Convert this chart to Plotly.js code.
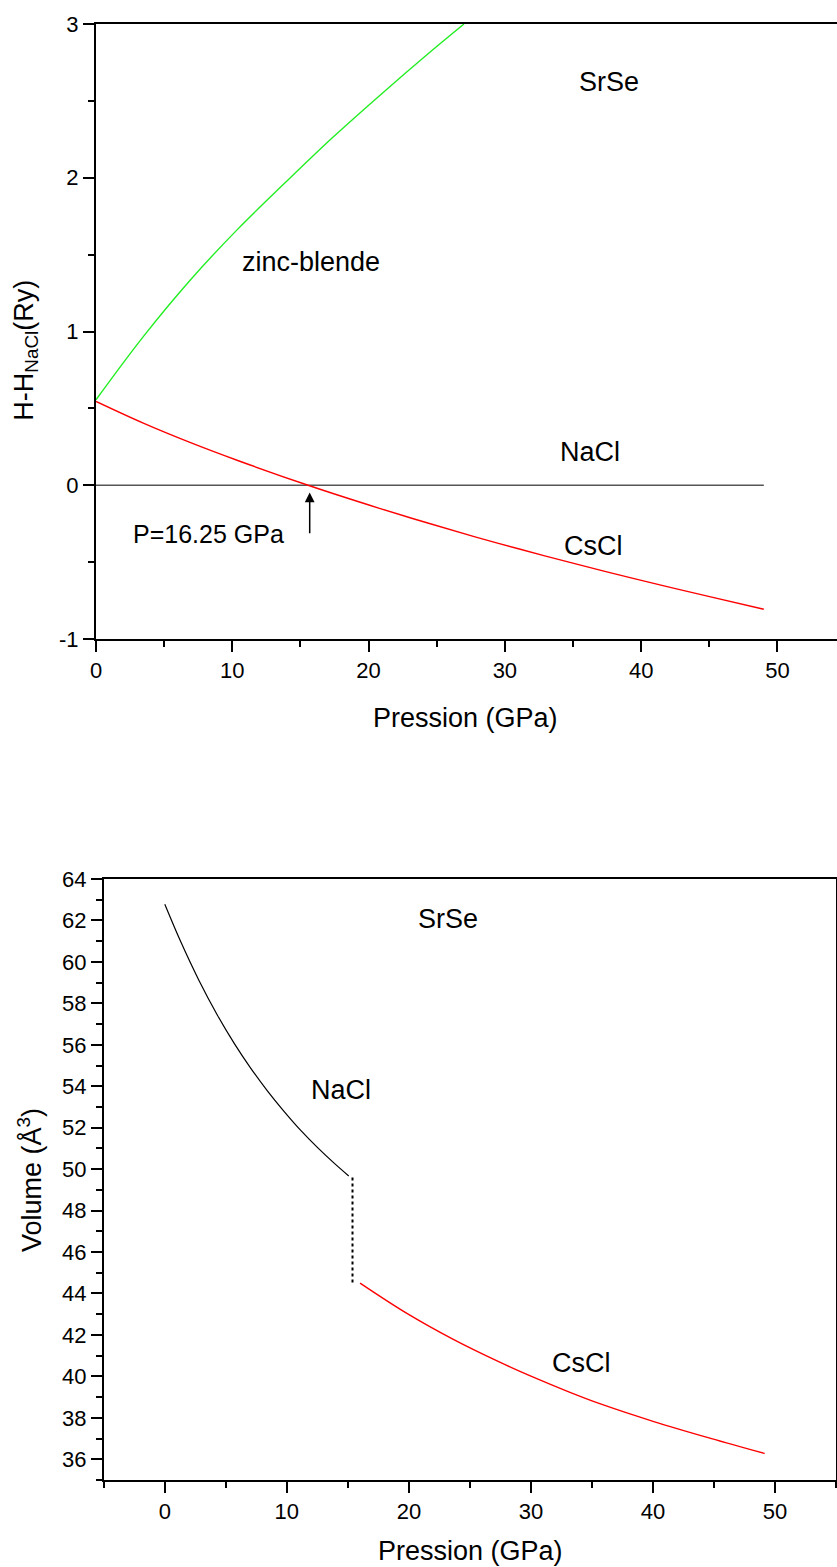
<!DOCTYPE html>
<html>
<head>
<meta charset="utf-8">
<script src="https://cdn.plot.ly/plotly-3.0.1.min.js"></script>
<style>html,body{margin:0;padding:0;background:#fff;overflow:hidden}</style>
</head>
<body>
<div id="chart" style="width:837px;height:1567px"></div>
<script>
// ---- Top panel: enthalpy difference vs pressure ----
const topP_zb = [0, 3.47, 6.94, 10.4, 13.87, 17.34, 20.8, 24.28, 27.0];
const topH_zb = [0.556, 0.967, 1.337, 1.666, 1.967, 2.26, 2.534, 2.80, 3.0];
const topP_cs = [0, 3.47, 6.94, 10.4, 16.0, 20.8, 24.28, 27.75, 31.2, 34.7, 38.15, 41.6, 45.1, 49.0];
const topH_cs = [0.545, 0.404, 0.277, 0.161, -0.013, -0.150, -0.244, -0.334, -0.418, -0.500, -0.578, -0.653, -0.726, -0.806];
const topP_nacl = [0, 49.0];
const topH_nacl = [0, 0];
const arrowP = 15.68;
const arrowH = [-0.367, -0.047];
const topYTickVals = [-1, 0, 1, 2, 3];
const topYTickText = ['-1', '0', '1', '2', '3'];

// ---- Bottom panel: volume vs pressure ----
const botP_nacl = [0, 1.3, 2.78, 4.3, 5.7, 7.02, 8.39, 9.75, 11.12, 12.48, 13.85, 15.07];
const botV_nacl = [62.78, 60.98, 59.13, 57.44, 56.06, 54.89, 53.79, 52.80, 51.88, 51.06, 50.30, 49.67];
const botP_cscl = [16.0, 19.7, 23.6, 27.4, 30.0, 33.2, 35.7, 40.07, 44.72, 49.15];
const botV_cscl = [44.5, 43.09, 41.8, 40.7, 40.01, 39.23, 38.67, 37.82, 37.01, 36.28];
const transP = [15.38, 15.38];
const transV = [49.6, 44.5];

const FONT = 'Liberation Sans, Arial, Helvetica, sans-serif';

const traces = [
  {x: topP_nacl, y: topH_nacl, xaxis: 'x', yaxis: 'y', mode: 'lines', line: {color: '#555555', width: 1.4}, name: 'NaCl'},
  {x: topP_zb, y: topH_zb, xaxis: 'x', yaxis: 'y', mode: 'lines', line: {color: '#22ee22', width: 1.4, shape: 'spline'}, name: 'zinc-blende'},
  {x: topP_cs, y: topH_cs, xaxis: 'x', yaxis: 'y', mode: 'lines', line: {color: '#ff0000', width: 1.4, shape: 'spline'}, name: 'CsCl'},
  {x: botP_nacl, y: botV_nacl, xaxis: 'x2', yaxis: 'y2', mode: 'lines', line: {color: '#000000', width: 1.2, shape: 'spline'}, name: 'NaCl V'},
  {x: transP, y: transV, xaxis: 'x2', yaxis: 'y2', mode: 'lines', line: {color: '#000000', width: 2, dash: 'dot'}, name: 'transition'},
  {x: botP_cscl, y: botV_cscl, xaxis: 'x2', yaxis: 'y2', mode: 'lines', line: {color: '#ff0000', width: 1.4, shape: 'spline'}, name: 'CsCl V'}
];

const axCommon = {
  showline: true, linecolor: '#000', linewidth: 2,
  ticks: 'outside', ticklen: 11, tickwidth: 2, tickcolor: '#000',
  showgrid: false, zeroline: false,
  tickfont: {family: FONT, size: 22, color: '#000'}
};

const layout = {
  width: 837, height: 1567,
  margin: {l: 96, r: 0, t: 0, b: 0},
  paper_bgcolor: '#fff', plot_bgcolor: '#fff',
  showlegend: false,
  font: {family: FONT, color: '#000'},
  xaxis: Object.assign({}, axCommon, {
    domain: [0, 1], range: [0, 54.37], anchor: 'y',
    tickmode: 'linear', tick0: 0, dtick: 10, mirror: true,
    minor: {ticks: 'outside', ticklen: 6, tickwidth: 2, tickcolor: '#000', dtick: 5, tick0: 0, showgrid: false}
  }),
  yaxis: Object.assign({}, axCommon, {
    domain: [0.5922, 0.98468], range: [-1, 3], anchor: 'x',
    tickmode: 'array', tickvals: topYTickVals, ticktext: topYTickText, mirror: false,
    minor: {ticks: 'outside', ticklen: 6, tickwidth: 2, tickcolor: '#000', dtick: 0.5, tick0: 0, showgrid: false}
  }),
  xaxis2: Object.assign({}, axCommon, {
    domain: [0.0105, 0.9987], range: [-5, 55], anchor: 'y2',
    tickmode: 'linear', tick0: 0, dtick: 10, mirror: true,
    minor: {ticks: 'outside', ticklen: 6, tickwidth: 2, tickcolor: '#000', dtick: 5, tick0: 0, showgrid: false}
  }),
  yaxis2: Object.assign({}, axCommon, {
    domain: [0.05552, 0.43905], range: [35, 64], anchor: 'x2',
    tickmode: 'linear', tick0: 36, dtick: 2, mirror: true,
    minor: {ticks: 'outside', ticklen: 6, tickwidth: 2, tickcolor: '#000', dtick: 1, tick0: 0, showgrid: false}
  }),
  annotations: [
    {xref: 'x', yref: 'y', x: 37.67, y: 2.625, text: 'SrSe', showarrow: false, font: {size: 27}},
    {xref: 'x', yref: 'y', x: 15.78, y: 1.455, text: 'zinc-blende', showarrow: false, font: {size: 27}},
    {xref: 'x', yref: 'y', x: 36.28, y: 0.214, text: 'NaCl', showarrow: false, font: {size: 27}},
    {xref: 'x', yref: 'y', x: 36.52, y: -0.397, text: 'CsCl', showarrow: false, font: {size: 27}},
    {xref: 'x', yref: 'y', x: 8.22, y: -0.315, text: 'P=16.25 GPa', showarrow: false, font: {size: 25}},
    {xref: 'x', yref: 'y', x: arrowP, y: arrowH[1], axref: 'x', ayref: 'y', ax: arrowP, ay: arrowH[0],
     text: ' ', showarrow: true, arrowhead: 2, arrowsize: 1.3, arrowwidth: 1.5, arrowcolor: '#000'},
    {xref: 'x2', yref: 'y2', x: 23.17, y: 62.07, text: 'SrSe', showarrow: false, font: {size: 27}},
    {xref: 'x2', yref: 'y2', x: 14.41, y: 53.81, text: 'NaCl', showarrow: false, font: {size: 27}},
    {xref: 'x2', yref: 'y2', x: 34.17, y: 40.66, text: 'CsCl', showarrow: false, font: {size: 27}},
    // axis titles
    {xref: 'paper', yref: 'paper', x: 0.498, y: 0.5418, text: 'Pression (GPa)', showarrow: false, font: {size: 27}, xanchor: 'center', yanchor: 'middle'},
    {xref: 'paper', yref: 'paper', x: 0.5054, y: 0.0102, text: 'Pression (GPa)', showarrow: false, font: {size: 27}, xanchor: 'center', yanchor: 'middle'},
    {xref: 'paper', yref: 'paper', x: -0.095, y: 0.7766, text: 'H-H<sub>NaCl</sub>(Ry)', textangle: -90, showarrow: false, font: {size: 27}, xanchor: 'center', yanchor: 'middle'},
    {xref: 'paper', yref: 'paper', x: -0.089, y: 0.247, text: 'Volume (Å<sup>3</sup>)', textangle: -90, showarrow: false, font: {size: 27}, xanchor: 'center', yanchor: 'middle'}
  ]
};

Plotly.newPlot('chart', traces, layout, {staticPlot: true, displayModeBar: false});
</script>
</body>
</html>
